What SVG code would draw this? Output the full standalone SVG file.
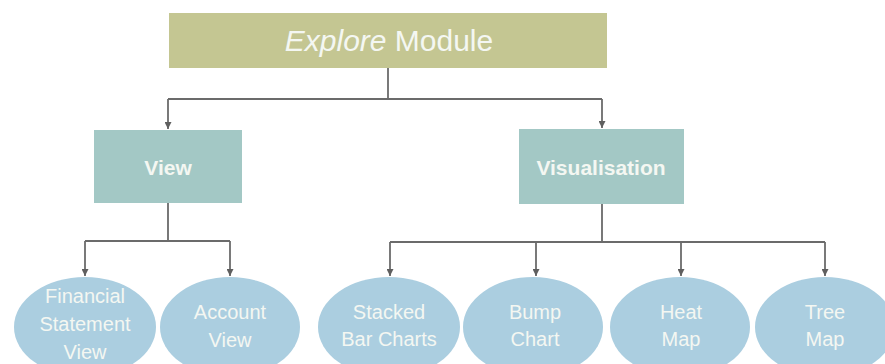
<svg xmlns="http://www.w3.org/2000/svg" width="885" height="364" viewBox="0 0 885 364">
<style>
.edge{fill:none;stroke:#6b6b6b;stroke-width:1.8}
.rootbox{fill:#c4c692}
.box{fill:#a3c8c5}
.leaf{fill:#abcee0}
.t{font-family:"Liberation Sans",Arial,sans-serif;fill:#f4f7f2;text-anchor:middle}
.title{font-size:30px}
.bold{font-size:21px;font-weight:bold}
.leaft{font-size:20px}
</style>
<defs>
<marker id="arr" viewBox="0 0 10 10" refX="10" refY="5" markerWidth="7" markerHeight="7" markerUnits="userSpaceOnUse" orient="auto">
<path d="M0,0 L10,5 L0,10 z" fill="#5f5f5f"/>
</marker>
</defs>
<rect width="885" height="364" fill="#ffffff"/>
<g id="connectors">
<path class="edge" d="M388,68 V99"/>
<path class="edge" d="M168,99 H602"/>
<path class="edge" d="M168,99 V129" marker-end="url(#arr)"/>
<path class="edge" d="M602,99 V128" marker-end="url(#arr)"/>
<path class="edge" d="M168,203 V241 M85,241 H230"/>
<path class="edge" d="M85,241 V276" marker-end="url(#arr)"/>
<path class="edge" d="M230,241 V276" marker-end="url(#arr)"/>
<path class="edge" d="M602,204 V242 M390,242 H825"/>
<path class="edge" d="M390,242 V276" marker-end="url(#arr)"/>
<path class="edge" d="M536,242 V276" marker-end="url(#arr)"/>
<path class="edge" d="M681,242 V276" marker-end="url(#arr)"/>
<path class="edge" d="M825,242 V276" marker-end="url(#arr)"/>
</g>
<g id="explore-module">
<rect class="rootbox" x="169" y="13" width="438" height="55"/>
<text class="t title" x="389" y="51"><tspan font-style="italic">Explore</tspan> Module</text>
</g>
<g id="view">
<rect class="box" x="94" y="130" width="148" height="73"/>
<text class="t bold" x="168" y="175">View</text>
</g>
<g id="visualisation">
<rect class="box" x="519" y="129" width="165" height="75"/>
<text class="t bold" x="601" y="175">Visualisation</text>
</g>
<g id="financial-statement-view">
<ellipse class="leaf" cx="85" cy="327" rx="71" ry="50"/>
<text class="t leaft" x="85" y="303">Financial</text>
<text class="t leaft" x="85" y="331">Statement</text>
<text class="t leaft" x="85" y="359">View</text>
</g>
<g id="account-view">
<ellipse class="leaf" cx="230" cy="327" rx="70" ry="50"/>
<text class="t leaft" x="230" y="319">Account</text>
<text class="t leaft" x="230" y="347">View</text>
</g>
<g id="stacked-bar-charts">
<ellipse class="leaf" cx="389" cy="327" rx="71" ry="50"/>
<text class="t leaft" x="389" y="319">Stacked</text>
<text class="t leaft" x="389" y="346">Bar Charts</text>
</g>
<g id="bump-chart">
<ellipse class="leaf" cx="533" cy="327" rx="70" ry="50"/>
<text class="t leaft" x="535" y="319">Bump</text>
<text class="t leaft" x="535" y="346">Chart</text>
</g>
<g id="heat-map">
<ellipse class="leaf" cx="680" cy="327" rx="70" ry="50"/>
<text class="t leaft" x="681" y="319">Heat</text>
<text class="t leaft" x="681" y="346">Map</text>
</g>
<g id="tree-map">
<ellipse class="leaf" cx="825" cy="327" rx="70" ry="50"/>
<text class="t leaft" x="825" y="319">Tree</text>
<text class="t leaft" x="825" y="346">Map</text>
</g>
</svg>
